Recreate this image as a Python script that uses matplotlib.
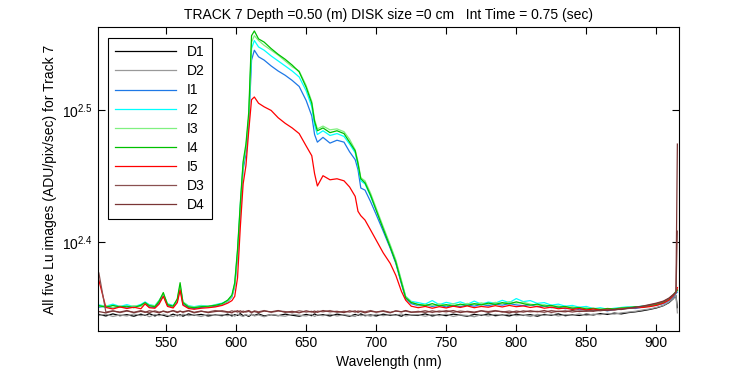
import matplotlib
matplotlib.use("Agg")
import matplotlib.pyplot as plt
from matplotlib.ticker import NullLocator

plt.rcParams["font.family"] = ["Liberation Sans", "DejaVu Sans"]
plt.rcParams["mathtext.fontset"] = "custom"
plt.rcParams["mathtext.rm"] = "Liberation Sans"
plt.rcParams["mathtext.default"] = "regular"

# wavelength (nm)
wl = [502, 507, 512, 517, 522, 527, 532, 535, 538, 542, 545, 548, 551, 555, 558, 560, 562, 566, 570, 575, 580, 585, 590,
      594, 597, 599, 601, 603, 605, 607, 609, 611, 613, 616, 620, 625, 630, 635, 640, 645, 650, 654, 656, 658, 662, 667,
      672, 677, 681, 685, 687, 689, 692, 696, 700, 705, 710, 714, 718, 721, 725,
      730, 735, 740, 745, 750, 755, 760, 765, 770, 775, 780, 785, 790, 795, 800, 805, 810, 815, 820, 825, 830, 835,
      840, 845, 850, 855, 860, 865, 870, 875, 880, 885, 890, 895, 900,
      905, 909, 912, 914, 915]

D1 = [221.4, 220.8, 221.6, 220.9, 221.3, 220.7, 221.5, 221.0, 221.7, 220.8, 221.4, 221.1, 220.6, 221.5, 220.9, 221.3,
      220.7, 221.6, 221.0, 221.4, 220.8, 221.2, 220.9,
      221.5, 220.8, 221.3, 221.0, 221.7, 220.9, 221.2, 220.6, 221.4, 221.0, 221.6, 220.8, 221.3, 220.9, 221.5, 221.1,
      220.7, 221.4, 220.9, 221.6, 221.0, 221.3, 220.8, 221.5, 221.1, 220.7, 221.4, 221.0, 221.6, 220.9, 221.2, 220.8,
      221.5, 221.0, 221.3, 220.7, 221.4, 221.1,
      221.0, 221.6, 220.8, 221.3, 220.9, 221.5, 221.1, 220.7, 221.4, 221.0, 221.6, 220.9, 221.2, 220.8, 221.5, 221.0,
      221.3, 220.7, 221.4, 221.1, 221.6, 220.9, 221.3, 221.0, 221.5, 221.2, 221.7, 221.4, 221.9, 221.6, 222.1, 222.4,
      222.8, 223.3, 223.9,
      224.8, 226.0, 227.5, 228.8, 224.0]
D2 = [221.0, 221.5, 220.6, 221.2, 220.8, 221.6, 220.9, 221.3, 220.5, 221.4, 220.9, 221.5, 221.0, 220.6, 221.3, 220.8,
      221.5, 220.9, 221.2, 220.6, 221.4, 221.0, 221.3,
      220.9, 221.4, 220.7, 221.5, 221.0, 220.6, 221.3, 220.9, 221.6, 220.8, 221.2, 220.5, 221.4, 221.0, 220.7, 221.5,
      221.1, 220.8, 221.4, 220.6, 221.2, 220.9, 221.5, 220.8, 221.3, 221.0, 220.6, 221.4, 220.9, 221.2, 220.7, 221.5,
      220.9, 221.3, 221.0, 221.6, 220.8, 221.2,
      221.3, 220.7, 221.4, 220.9, 221.5, 220.6, 221.2, 221.0, 220.5, 221.3, 220.8, 221.4, 221.0, 221.6, 220.9, 221.2,
      220.6, 221.4, 221.0, 221.5, 220.8, 221.3, 221.1, 221.6, 221.0, 221.5, 221.3, 221.8, 221.5, 222.0, 222.3, 222.6,
      223.1, 223.5, 224.1,
      224.9, 226.2, 227.6, 229.0, 222.0]
I1 = [224.2, 224.6, 223.9, 224.5, 224.0, 224.4, 224.8, 225.6, 224.3, 224.1, 226.0, 228.8, 224.9, 224.2, 226.6, 232.0,
      225.4, 224.0, 223.7, 224.1, 224.4, 224.6, 225.2,
      226.4, 228.2, 232.5, 245.0, 265.0, 285.0, 293.0, 308.0, 345.0, 351.0, 347.0, 345.0, 341.5, 338.5, 336.0, 333.0,
      329.5, 321.5, 313.0, 303.0, 299.0, 301.5, 298.5, 300.0, 299.0, 294.0, 290.0, 285.0, 276.0, 275.0, 269.5, 263.5,
      256.0, 248.5, 242.0, 233.5, 227.8, 225.6,
      224.8, 225.2, 224.5, 225.0, 224.3, 224.9, 224.4, 225.1, 224.6, 225.3, 224.8, 225.4, 225.0, 225.6, 225.1, 224.8,
      225.2, 224.4, 224.7, 224.0, 224.3, 223.6, 223.9, 223.2, 223.5, 222.9, 223.3, 222.8, 223.2, 223.6, 223.9, 223.7,
      224.2, 224.6, 225.0,
      225.6, 226.8, 228.2, 229.6, 230.2]
I2 = [225.1, 224.6, 225.4, 224.5, 225.2, 224.4, 225.3, 226.3, 225.2, 224.8, 226.9, 229.2, 225.6, 224.9, 227.0, 232.5,
      226.2, 224.8, 224.4, 224.9, 224.5, 225.2, 225.8,
      226.8, 228.8, 233.5, 247.0, 268.0, 288.0, 296.0, 312.0, 352.0, 357.0, 353.0, 351.0, 347.5, 344.5, 341.5, 338.5,
      335.0, 327.0, 318.0, 308.0, 303.0, 305.0, 302.5, 303.5, 302.0, 298.0, 293.5, 287.0, 279.5, 278.0, 272.0, 265.5,
      257.5, 249.5, 243.0, 234.5, 228.5, 226.5,
      226.0, 225.4, 226.8, 225.2, 226.1, 225.5, 226.3, 225.3, 226.6, 225.4, 226.2, 225.8, 226.9, 226.0, 227.6, 226.4,
      226.8, 225.7, 226.0, 225.0, 225.4, 224.6, 224.9, 224.2, 224.5, 223.6, 224.0, 223.4, 223.8, 224.1, 224.4, 224.2,
      224.7, 224.9, 225.2,
      225.9, 227.0, 228.6, 230.0, 230.8]
I3 = [224.5, 224.9, 224.1, 224.7, 224.3, 224.8, 224.5, 225.8, 225.0, 224.7, 226.8, 229.5, 225.5, 224.4, 227.2, 233.0,
      226.4, 224.6, 224.2, 224.7, 224.3, 225.1, 225.4,
      226.6, 228.5, 233.0, 246.0, 267.0, 287.0, 296.0, 312.0, 356.0, 360.0, 357.0, 354.0, 351.0, 348.0, 344.5, 341.0,
      338.5, 330.0, 321.0, 311.0, 306.0, 307.5, 305.5, 306.0, 304.5, 300.5, 295.0, 289.0, 281.0, 279.5, 273.5, 266.5,
      258.0, 250.0, 243.5, 235.0, 228.5, 226.3,
      225.0, 225.3, 224.9, 225.5, 224.8, 225.6, 225.0, 225.7, 225.2, 225.9, 225.3, 226.1, 225.5, 226.4, 225.8, 226.2,
      225.4, 225.0, 225.2, 224.5, 224.7, 224.1, 224.4, 223.7, 224.0, 223.4, 223.6, 223.2, 223.6, 223.9, 224.2, 224.1,
      224.6, 224.9, 225.2,
      226.0, 227.2, 228.8, 230.0, 231.0]
I4 = [224.8, 224.2, 224.9, 224.3, 224.6, 224.0, 225.0, 226.0, 224.8, 224.4, 226.5, 230.0, 225.2, 224.6, 227.5, 234.0,
      226.0, 224.3, 224.0, 224.4, 224.6, 224.9, 225.6,
      227.0, 229.0, 234.0, 248.0, 269.0, 289.0, 298.0, 315.0, 360.0, 363.0, 358.0, 356.0, 352.0, 348.5, 345.5, 342.0,
      338.0, 329.0, 320.0, 310.0, 305.0, 306.5, 304.0, 305.0, 303.5, 299.0, 294.5, 288.0, 280.5, 278.5, 272.5, 265.5,
      257.0, 249.0, 242.5, 234.0, 228.0, 226.0,
      225.3, 224.8, 225.6, 224.7, 225.2, 224.6, 225.4, 224.9, 225.6, 225.1, 225.8, 225.3, 226.0, 225.5, 226.3, 225.6,
      225.0, 225.4, 224.6, 224.9, 224.2, 224.5, 223.8, 224.1, 223.5, 223.8, 223.3, 223.7, 223.5, 223.9, 224.0, 224.4,
      224.3, 224.8, 225.3,
      226.2, 227.5, 229.0, 230.5, 231.0]
I5 = [235.0, 224.1, 223.5, 224.3, 223.7, 224.2, 223.6, 225.5, 224.0, 223.8, 225.4, 228.5, 224.5, 223.9, 226.0, 231.0,
      225.0, 223.7, 223.4, 223.8, 224.0, 224.3, 224.9,
      225.8, 226.8, 228.5, 236.0, 258.0, 278.0, 287.0, 305.0, 322.0, 323.5, 320.0, 318.0, 316.0, 312.0, 309.0, 306.5,
      303.5, 297.0, 292.0, 283.0, 277.0, 282.0, 280.0, 280.5, 279.5, 276.5, 272.0, 265.0, 263.0, 261.0, 256.5, 252.0,
      246.5, 242.0, 237.0, 230.5, 227.0, 224.6,
      224.0, 224.5, 223.8, 224.4, 223.9, 224.6, 224.1, 224.7, 224.0, 224.5, 224.2, 224.8, 224.3, 224.9, 224.4, 224.7,
      224.1, 224.5, 223.8, 224.2, 223.6, 223.9, 223.3, 223.7, 223.1, 223.5, 223.0, 223.4, 223.2, 223.6, 223.8, 224.0,
      224.1, 224.4, 224.9,
      225.8, 227.0, 228.6, 230.0, 232.0]
D3 = [238.0, 222.3, 222.8, 222.1, 222.7, 222.2, 222.9, 222.4, 222.0, 222.8, 222.3, 222.6, 222.1, 222.9, 222.4, 222.7,
      222.2, 222.8, 222.0, 222.6, 222.3, 222.9, 222.5,
      222.2, 222.8, 222.4, 222.9, 222.1, 222.7, 222.3, 222.6, 222.0, 222.8, 222.4, 222.9, 222.2, 222.7, 222.5, 222.1,
      222.8, 222.3, 222.6, 222.0, 222.7, 222.4, 222.9, 222.2, 222.6, 222.3, 222.8, 222.1, 222.7, 222.4, 222.9, 222.3,
      222.6, 222.0, 222.8, 222.4, 222.7, 222.2,
      222.6, 222.1, 222.8, 222.3, 222.9, 222.2, 222.7, 222.4, 222.0, 222.8, 222.5, 222.9, 222.3, 222.7, 222.1, 222.8,
      222.4, 222.6, 222.2, 222.9, 222.5, 222.8, 222.3, 222.7, 222.6, 223.0, 222.8, 223.2, 223.1, 223.5, 223.7, 224.1,
      224.5, 225.0, 225.6,
      226.4, 227.6, 229.0, 230.0, 256.0]
D4 = [222.5, 222.0, 222.7, 222.3, 222.9, 222.1, 222.6, 222.2, 222.8, 222.4, 222.0, 222.7, 222.3, 222.8, 222.1, 222.6,
      222.4, 222.9, 222.2, 222.7, 222.1, 222.5, 222.8,
      222.4, 222.0, 222.7, 222.3, 222.8, 222.2, 222.6, 222.9, 222.3, 222.5, 222.1, 222.7, 222.4, 222.9, 222.2, 222.6,
      222.0, 222.8, 222.3, 222.7, 222.2, 222.9, 222.4, 222.6, 222.1, 222.8, 222.3, 222.7, 222.5, 222.0, 222.6, 222.3,
      222.8, 222.2, 222.7, 222.4, 222.9, 222.3,
      222.3, 222.8, 222.2, 222.7, 222.4, 222.9, 222.1, 222.6, 222.3, 222.8, 222.2, 222.7, 222.5, 222.0, 222.7, 222.3,
      222.8, 222.4, 222.9, 222.2, 222.6, 222.4, 222.9, 222.5, 222.8, 222.6, 223.1, 222.9, 223.4, 223.3, 223.8, 224.2,
      224.6, 225.2, 225.8,
      226.6, 227.8, 229.2, 230.2, 298.0]

labels = ["D1", "D2", "I1", "I2", "I3", "I4", "I5", "D3", "D4"]
colors = ["#000000", "#999999", "#1e78e6", "#00ffff", "#80f080", "#00c000", "#ff0000", "#8a5050", "#7a3535"]


def main():
    series = [D1, D2, I1, I2, I3, I4, I5, D3, D4]

    fig = plt.figure(figsize=(7.5, 3.75), dpi=100)
    ax = fig.add_axes([0.1307, 0.1173, 0.7747, 0.8107])

    for vals, lab, col in zip(series, labels, colors):
        ax.plot(wl, vals, color=col, lw=0.9, label=lab)

    ax.set_yscale("log")
    ax.set_xlim(501.4, 916.2)
    ax.set_ylim(10 ** 2.3326, 10 ** 2.5629)
    ax.set_xticks([550, 600, 650, 700, 750, 800, 850, 900])
    ax.set_yticks([10 ** 2.4, 10 ** 2.5])
    ax.set_yticklabels([r"$10^{2.4}$", r"$10^{2.5}$"])
    ax.yaxis.set_minor_locator(NullLocator())
    ax.tick_params(direction="in", top=True, right=True, length=5, width=0.8, labelsize=10)
    for sp in ax.spines.values():
        sp.set_linewidth(0.8)

    ax.set_xlabel("Wavelength (nm)", fontsize=10)
    ax.set_ylabel("All five Lu images (ADU/pix/sec) for Track 7", fontsize=10)
    ax.set_title("TRACK 7 Depth =0.50 (m) DISK size =0 cm   Int Time = 0.75 (sec)", fontsize=10)

    leg = ax.legend(loc="upper left", bbox_to_anchor=(0.0172, 0.963), borderaxespad=0,
                    fancybox=False, framealpha=1, edgecolor="black", fontsize=10,
                    handlelength=4.4, labelspacing=0.37, borderpad=0.5)
    leg.get_frame().set_linewidth(0.8)

    fig.savefig("out.png", dpi=100)


if __name__ == "__main__":
    main()
